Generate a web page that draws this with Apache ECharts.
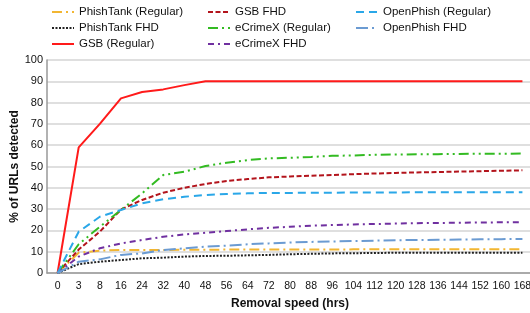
<!DOCTYPE html>
<html>
<head>
<meta charset="utf-8">
<script src="https://cdn.jsdelivr.net/npm/echarts@6/dist/echarts.min.js"></script>
<style>
  html, body { margin: 0; padding: 0; background: #fff; }
  #chart { width: 530px; height: 313px; }
</style>
</head>
<body>
<div id="chart"></div>
<script>
// removal speed categories (hrs)
var hours = ["0", "3", "8", "16", "24", "32", "40", "48", "56", "64", "72", "80", "88", "96", "104", "112", "120", "128", "136", "144", "152", "160", "168"];

var phishTankRegular = [0, 9.5, 10.5, 10.8, 10.8, 10.8, 10.9, 10.9, 11, 11, 11, 11, 11, 11, 11.1, 11.1, 11.1, 11.1, 11.1, 11.1, 11.1, 11.1, 11.1];
var phishTankFHD = [0, 4.2, 5.3, 6.1, 6.9, 7.2, 7.7, 8, 8.1, 8.3, 8.5, 8.8, 9, 9.2, 9.3, 9.4, 9.5, 9.5, 9.5, 9.5, 9.5, 9.5, 9.5];
var gsbRegular = [0, 59, 70, 82, 85, 86.2, 88.2, 90, 90, 90, 90, 90, 90, 90, 90, 90, 90, 90, 90, 90, 90, 90, 90];
var gsbFHD = [0, 11, 19.4, 29.8, 34.3, 37.7, 40, 41.8, 43.2, 44.1, 44.9, 45.3, 45.7, 46, 46.4, 46.7, 47, 47.2, 47.4, 47.6, 47.8, 48, 48.2];
var ecrimexRegular = [0, 13.5, 21.7, 29.6, 37.4, 46, 47.6, 50.2, 51.8, 53, 53.8, 54.1, 54.5, 55, 55.2, 55.5, 55.6, 55.7, 55.8, 55.9, 56, 56, 56.1];
var ecrimexFHD = [0, 7.7, 11.6, 13.9, 15.5, 17, 18.1, 18.9, 19.7, 20.5, 21.2, 21.7, 22.2, 22.5, 22.8, 23, 23.2, 23.4, 23.5, 23.6, 23.7, 23.8, 23.9];
var openPhishRegular = [0, 19.4, 26.4, 29.6, 32.7, 34.6, 35.8, 36.6, 37.1, 37.4, 37.6, 37.6, 37.7, 37.7, 37.8, 37.8, 37.8, 37.9, 37.9, 37.9, 37.9, 37.9, 37.9];
var openPhishFHD = [0, 5.3, 6.4, 8.5, 9.2, 10.8, 11.6, 12.4, 12.8, 13.5, 13.9, 14.3, 14.6, 14.8, 15, 15.2, 15.4, 15.5, 15.6, 15.7, 15.8, 15.9, 16];

var chart = echarts.init(document.getElementById("chart"));

function line(name, data, color, width, dash) {
  return {
    name: name,
    type: "line",
    data: data,
    symbol: "none",
    smooth: false,
    lineStyle: { color: color, width: width, type: dash },
    itemStyle: { color: color }
  };
}

var legendBase = {
  orient: "vertical",
  top: 1,
  itemGap: 4,
  itemWidth: 22,
  itemHeight: 12,
  itemStyle: { opacity: 0 },
  textStyle: { fontSize: 11.5, color: "#111", fontFamily: "Liberation Sans" }
};

var option = {
  animation: false,
  backgroundColor: "#fff",
  legend: [
    Object.assign({}, legendBase, { left: 46, data: ["PhishTank (Regular)", "PhishTank FHD", "GSB (Regular)"] }),
    Object.assign({}, legendBase, { left: 202, data: ["GSB FHD", "eCrimeX (Regular)", "eCrimeX FHD"] }),
    Object.assign({}, legendBase, { left: 350, data: ["OpenPhish (Regular)", "OpenPhish FHD"] })
  ],
  grid: { left: 47, right: -3, top: 60, bottom: 40, outerBoundsMode: "none" },
  xAxis: {
    type: "category",
    data: hours,
    boundaryGap: true,
    name: "Removal speed (hrs)",
    nameLocation: "middle",
    nameGap: 25,
    nameMoveOverlap: false,
    nameTextStyle: { fontSize: 12, fontWeight: "bold", color: "#111", fontFamily: "Liberation Sans" },
    axisLine: { lineStyle: { color: "#999", width: 1.5 } },
    axisTick: { show: false },
    axisLabel: { fontSize: 10.5, color: "#111", interval: 0, margin: 8, fontFamily: "Liberation Sans" }
  },
  yAxis: {
    type: "value",
    min: 0,
    max: 100,
    interval: 10,
    name: "% of URLs detected",
    nameLocation: "middle",
    nameGap: 26,
    nameMoveOverlap: false,
    nameRotate: 90,
    nameTextStyle: { fontSize: 12, fontWeight: "bold", color: "#111", fontFamily: "Liberation Sans" },
    axisLine: { show: true, lineStyle: { color: "#999", width: 1.5 } },
    axisTick: { show: false },
    axisLabel: { fontSize: 11, color: "#111", margin: 4, fontFamily: "Liberation Sans" },
    splitLine: { lineStyle: { color: "#d4d4d4", width: 1.5 } }
  },
  series: [
    line("PhishTank (Regular)", phishTankRegular, "#f2b632", 2, [10, 4, 2, 4]),
    line("PhishTank FHD", phishTankFHD, "#222222", 2, [2, 1.5]),
    line("GSB (Regular)", gsbRegular, "#ff1a1a", 2, "solid"),
    line("GSB FHD", gsbFHD, "#b3141c", 2, [5, 2.5]),
    line("eCrimeX (Regular)", ecrimexRegular, "#33bb22", 2, [10, 4, 2, 4, 2, 4]),
    line("eCrimeX FHD", ecrimexFHD, "#7030a0", 2, [6, 4, 2, 4]),
    line("OpenPhish (Regular)", openPhishRegular, "#2aa7e8", 2, [8, 5]),
    line("OpenPhish FHD", openPhishFHD, "#6b9bd2", 2, [12, 4, 2, 4])
  ]
};

chart.setOption(option);
</script>
</body>
</html>
